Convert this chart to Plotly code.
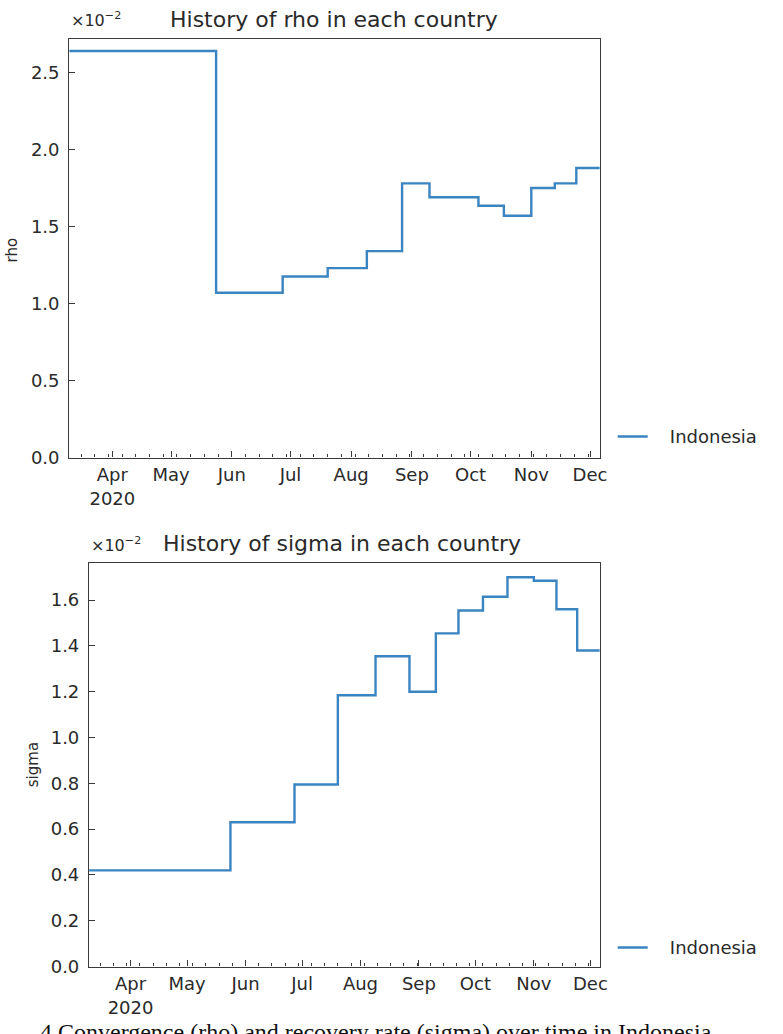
import plotly.graph_objects as go

# ---- data (values in units of 1e-2) ----
country = "Indonesia"
rho_dates = ["2020-03-10", "2020-05-24", "2020-06-27", "2020-07-20", "2020-08-09",
             "2020-08-27", "2020-09-10", "2020-10-05", "2020-10-18", "2020-11-01",
             "2020-11-13", "2020-11-24", "2020-12-06"]
rho_values = [2.64, 1.07, 1.175, 1.23, 1.34, 1.78, 1.69, 1.635, 1.57, 1.75, 1.78, 1.88, 1.88]

sigma_dates = ["2020-03-10", "2020-05-24", "2020-06-27", "2020-07-20", "2020-08-09",
               "2020-08-27", "2020-09-10", "2020-09-22", "2020-10-05", "2020-10-18",
               "2020-11-01", "2020-11-13", "2020-11-24", "2020-12-06"]
sigma_values = [0.42, 0.63, 0.795, 1.185, 1.355, 1.20, 1.455, 1.555, 1.615, 1.70,
                1.685, 1.56, 1.38, 1.38]

month_ticks = ["2020-04-01", "2020-05-01", "2020-06-01", "2020-07-01", "2020-08-01",
               "2020-09-01", "2020-10-01", "2020-11-01", "2020-12-01"]
month_labels = ["Apr<br>2020", "May", "Jun", "Jul", "Aug", "Sep", "Oct", "Nov", "Dec"]
x_range = ["2020-03-10", "2020-12-06"]

rho_ticks = [0.0, 0.5, 1.0, 1.5, 2.0, 2.5]
sigma_ticks = [0.0, 0.2, 0.4, 0.6, 0.8, 1.0, 1.2, 1.4, 1.6]

caption = "4 Convergence (rho) and recovery rate (sigma) over time in Indonesia"

W, H = 783, 1034
FONT = "DejaVu Sans"
BLUE = "#3a84c1"
AX = "#3a3a3a"
TXT = "#2a2a2a"
NB = "\u00a0"


def px_x(p):
    return p / W


def px_y(p):
    return 1 - p / H


fig = go.Figure()
fig.add_trace(go.Scatter(x=rho_dates, y=rho_values, mode="lines", name=NB * 3 + country,
                         line=dict(color=BLUE, width=2.4, shape="hv"),
                         xaxis="x", yaxis="y", legend="legend"))
fig.add_trace(go.Scatter(x=sigma_dates, y=sigma_values, mode="lines", name=NB * 3 + country,
                         line=dict(color=BLUE, width=2.4, shape="hv"),
                         xaxis="x2", yaxis="y2", legend="legend2"))

common_x = dict(type="date", range=x_range, tickmode="array", tickvals=month_ticks,
                ticktext=month_labels, ticks="inside", ticklen=6, tickwidth=1,
                tickcolor=AX, showline=True, linecolor=AX, linewidth=1.3, mirror=True,
                showgrid=False, zeroline=False, ticklabelstandoff=1,
                tickfont=dict(family=FONT, size=18, color=TXT),
                minor=dict(ticks="inside", ticklen=3, tickwidth=1, tickcolor=AX,
                           dtick=7 * 86400000, tick0="2020-03-02", showgrid=False))
common_y = dict(ticks="inside", ticklen=6, tickwidth=1, tickcolor=AX, showline=True,
                linecolor=AX, linewidth=1.3, mirror=True, showgrid=False,
                zeroline=False, tickformat=".1f", ticklabelstandoff=5,
                tickfont=dict(family=FONT, size=18, color=TXT))

fig.update_layout(
    width=W, height=H, margin=dict(l=0, r=0, t=0, b=0),
    paper_bgcolor="white", plot_bgcolor="white",
    xaxis=dict(common_x, domain=[px_x(70), px_x(606)], anchor="y"),
    yaxis=dict(common_y, domain=[px_y(462), px_y(39)], range=[0, 2.72],
               tickvals=rho_ticks, anchor="x"),
    xaxis2=dict(common_x, domain=[px_x(90), px_x(606)], anchor="y2"),
    yaxis2=dict(common_y, domain=[px_y(976), px_y(569)], range=[0, 1.76],
                tickvals=sigma_ticks, anchor="x2"),
    legend=dict(x=px_x(619), y=px_y(441), xanchor="left", yanchor="middle",
                bgcolor="rgba(0,0,0,0)",
                font=dict(family=FONT, size=18, color=TXT)),
    legend2=dict(x=px_x(619), y=px_y(957), xanchor="left", yanchor="middle",
                 bgcolor="rgba(0,0,0,0)",
                 font=dict(family=FONT, size=18, color=TXT)),
    showlegend=True,
)

ann = []
# titles
ann.append(dict(text="History of rho in each country", x=px_x(337), y=px_y(20),
                xref="paper", yref="paper", showarrow=False, xanchor="center",
                yanchor="middle", font=dict(family=FONT, size=22, color=TXT)))
ann.append(dict(text="History of sigma in each country", x=px_x(346), y=px_y(549),
                xref="paper", yref="paper", showarrow=False, xanchor="center",
                yanchor="middle", font=dict(family=FONT, size=22, color=TXT)))
# exponent labels
ann.append(dict(text="×10<sup>−2</sup>", x=px_x(70), y=px_y(20), xref="paper",
                yref="paper", showarrow=False, xanchor="left", yanchor="middle",
                font=dict(family=FONT, size=16, color=TXT)))
ann.append(dict(text="×10<sup>−2</sup>", x=px_x(90), y=px_y(550), xref="paper",
                yref="paper", showarrow=False, xanchor="left", yanchor="middle",
                font=dict(family=FONT, size=16, color=TXT)))
# y-axis titles
ann.append(dict(text="rho", x=px_x(12), y=px_y(252), xref="paper", yref="paper",
                showarrow=False, textangle=-90, xanchor="center", yanchor="middle",
                font=dict(family=FONT, size=15, color=TXT)))
ann.append(dict(text="sigma", x=px_x(33), y=px_y(772), xref="paper", yref="paper",
                showarrow=False, textangle=-90, xanchor="center", yanchor="middle",
                font=dict(family=FONT, size=15, color=TXT)))
# partially visible caption at the bottom (clipped by the page edge, as in the source)
ann.append(dict(text=caption, x=px_x(38), y=px_y(1027), xref="paper", yref="paper",
                showarrow=False, xanchor="left", yanchor="top",
                font=dict(family="Liberation Serif", size=24, color="#111")))
fig.update_layout(annotations=ann)

fig.write_html("out.html")
